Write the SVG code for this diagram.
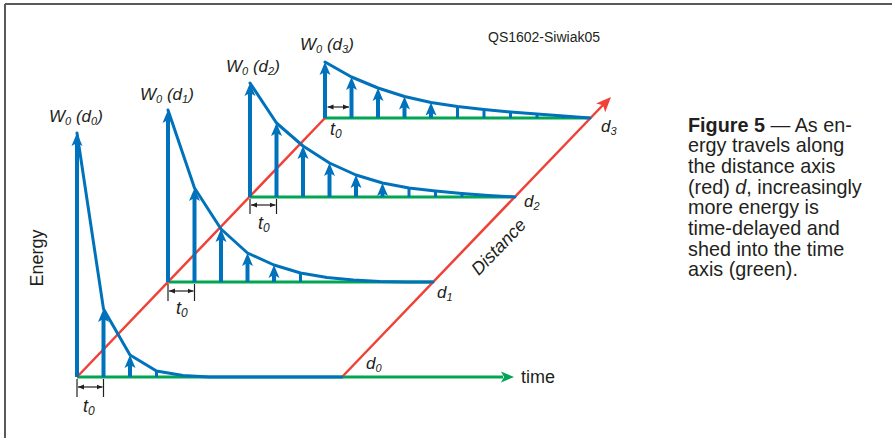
<svg xmlns="http://www.w3.org/2000/svg" xmlns:xlink="http://www.w3.org/1999/xlink" width="892" height="438" viewBox="0 0 892 438">
<style>
.frame{stroke:#58595b;stroke-width:2;fill:none}
.red{stroke:#ef4136;stroke-width:2.5;fill:none}
.green{stroke:#00a651;stroke-width:3;fill:none}
.curve{stroke:#0072bc;stroke-width:3;fill:none;stroke-linejoin:round;stroke-linecap:round}
.shaft{stroke:#0072bc;stroke-width:4;fill:none}
.tick{stroke:#0072bc;stroke-width:3;fill:none}
.head{fill:#0072bc}
.dim{stroke:#231f20;stroke-width:1.2;fill:none}
.dimarrow{stroke:#231f20;stroke-width:1.2;fill:none;marker-start:url(#dh);marker-end:url(#dh)}
.lbl{font-family:"Liberation Sans",Arial,sans-serif;font-style:italic;fill:#231f20}
.txt{font-family:"Liberation Sans",Arial,sans-serif;fill:#231f20}
</style>
<defs>
<path id="ah" d="M0,0 L5.5,13 L0,10 L-5.5,13 Z"/>
<marker id="dh" viewBox="0 0 6 6" refX="6" refY="3" markerWidth="6" markerHeight="6" markerUnits="userSpaceOnUse" orient="auto-start-reverse">
<path d="M0,0.5 L6,3 L0,5.5 Z" fill="#231f20"/>
</marker>
</defs>

<g id="frame">
<line class="frame" x1="5" y1="4" x2="892" y2="4"/>
<line class="frame" x1="5" y1="4" x2="5" y2="438"/>
</g>

<g id="axes">
<line class="green" x1="77" y1="377" x2="503" y2="377"/>
<use href="#ah" transform="translate(514,377) rotate(90)" fill="#00a651"/>
<line class="green" x1="168" y1="282" x2="433" y2="282"/>
<line class="green" x1="250" y1="197" x2="514" y2="197"/>
<line class="green" x1="325" y1="118" x2="590" y2="118"/>
<line class="red" x1="77" y1="377" x2="325" y2="118"/>
<line class="red" x1="342" y1="377" x2="603" y2="105"/>
<use href="#ah" transform="translate(611,97) rotate(43.85) scale(1.15)" fill="#ef4136"/>
</g>

<g id="plot-d0">
<path class="curve" d="M77,133 L103.5,309 L130,355 L156.5,371 L183,375.5 L209.5,377 L342,377"/>
<line class="shaft" x1="77" y1="377" x2="77" y2="142"/>
<use href="#ah" class="head" x="77" y="133"/>
<line class="shaft" x1="103.5" y1="377" x2="103.5" y2="318"/>
<use href="#ah" class="head" x="103.5" y="309"/>
<line class="shaft" x1="130" y1="377" x2="130" y2="364"/>
<use href="#ah" class="head" x="130" y="355"/>
<line class="tick" x1="156.5" y1="377" x2="156.5" y2="371"/>
</g>

<g id="plot-d1">
<path class="curve" d="M168,110 L194.5,188 L221,229 L247.5,253 L274,265 L300.5,273 L327,277.5 L353.5,280 L380,281.5 L406.5,282 L433,282"/>
<line class="shaft" x1="168" y1="282" x2="168" y2="119"/>
<use href="#ah" class="head" x="168" y="110"/>
<line class="shaft" x1="194.5" y1="282" x2="194.5" y2="197"/>
<use href="#ah" class="head" x="194.5" y="188"/>
<line class="shaft" x1="221" y1="282" x2="221" y2="238"/>
<use href="#ah" class="head" x="221" y="229"/>
<line class="shaft" x1="247.5" y1="282" x2="247.5" y2="262"/>
<use href="#ah" class="head" x="247.5" y="253"/>
<line class="shaft" x1="274" y1="282" x2="274" y2="274"/>
<use href="#ah" class="head" x="274" y="265"/>
<line class="tick" x1="300.5" y1="282" x2="300.5" y2="273"/>
</g>

<g id="plot-d2">
<path class="curve" d="M250,83 L276.5,123 L303,146 L329.5,163 L356,175 L382.5,183 L409,188 L435.5,191 L462,193.5 L488.5,195.5 L515,197"/>
<line class="shaft" x1="250" y1="197" x2="250" y2="92"/>
<use href="#ah" class="head" x="250" y="83"/>
<line class="shaft" x1="276.5" y1="197" x2="276.5" y2="132"/>
<use href="#ah" class="head" x="276.5" y="123"/>
<line class="shaft" x1="303" y1="197" x2="303" y2="155"/>
<use href="#ah" class="head" x="303" y="146"/>
<line class="shaft" x1="329.5" y1="197" x2="329.5" y2="172"/>
<use href="#ah" class="head" x="329.5" y="163"/>
<line class="shaft" x1="356" y1="197" x2="356" y2="184"/>
<use href="#ah" class="head" x="356" y="175"/>
<line class="shaft" x1="382.5" y1="197" x2="382.5" y2="192"/>
<use href="#ah" class="head" x="382.5" y="183"/>
<line class="tick" x1="409" y1="197" x2="409" y2="188"/>
<line class="tick" x1="435.5" y1="197" x2="435.5" y2="191"/>
<line class="tick" x1="462" y1="197" x2="462" y2="193.5"/>
</g>

<g id="plot-d3">
<path class="curve" d="M325,62 L351.5,77 L378,88 L404.5,96.5 L431,102.5 L457.5,106.5 L484,109.5 L510.5,112 L537,114 L563.5,116 L590,118"/>
<line class="shaft" x1="325" y1="118" x2="325" y2="71"/>
<use href="#ah" class="head" x="325" y="62"/>
<line class="shaft" x1="351.5" y1="118" x2="351.5" y2="86"/>
<use href="#ah" class="head" x="351.5" y="77"/>
<line class="shaft" x1="378" y1="118" x2="378" y2="97"/>
<use href="#ah" class="head" x="378" y="88"/>
<line class="shaft" x1="404.5" y1="118" x2="404.5" y2="105.5"/>
<use href="#ah" class="head" x="404.5" y="96.5"/>
<line class="shaft" x1="431" y1="118" x2="431" y2="111.5"/>
<use href="#ah" class="head" x="431" y="102.5"/>
<line class="tick" x1="457.5" y1="118" x2="457.5" y2="106.5"/>
<line class="tick" x1="484" y1="118" x2="484" y2="109.5"/>
<line class="tick" x1="510.5" y1="118" x2="510.5" y2="112"/>
<line class="tick" x1="537" y1="118" x2="537" y2="114"/>
<line class="tick" x1="563.5" y1="118" x2="563.5" y2="116"/>
</g>

<g id="t0-markers">
<line class="dim" x1="77" y1="379" x2="77" y2="397"/>
<line class="dim" x1="103.5" y1="379" x2="103.5" y2="397"/>
<line class="dimarrow" x1="78" y1="387" x2="102.5" y2="387"/>
<line class="dim" x1="168" y1="284" x2="168" y2="301"/>
<line class="dim" x1="194.5" y1="284" x2="194.5" y2="301"/>
<line class="dimarrow" x1="169" y1="291" x2="193.5" y2="291"/>
<line class="dim" x1="250" y1="199" x2="250" y2="214"/>
<line class="dim" x1="276.5" y1="199" x2="276.5" y2="214"/>
<line class="dimarrow" x1="251" y1="205" x2="275.5" y2="205"/>
<line class="dimarrow" x1="327.5" y1="107" x2="349" y2="107"/>
</g>

<g id="labels">
<text class="lbl" x="49" y="122" font-size="17">W<tspan font-size="11" dy="3">0</tspan><tspan dy="-3"> (d</tspan><tspan font-size="11" dy="3">0</tspan><tspan dy="-3">)</tspan></text>
<text class="lbl" x="140" y="100" font-size="17">W<tspan font-size="11" dy="3">0</tspan><tspan dy="-3"> (d</tspan><tspan font-size="11" dy="3">1</tspan><tspan dy="-3">)</tspan></text>
<text class="lbl" x="226" y="72" font-size="17">W<tspan font-size="11" dy="3">0</tspan><tspan dy="-3"> (d</tspan><tspan font-size="11" dy="3">2</tspan><tspan dy="-3">)</tspan></text>
<text class="lbl" x="300" y="50" font-size="17">W<tspan font-size="11" dy="3">0</tspan><tspan dy="-3"> (d</tspan><tspan font-size="11" dy="3">3</tspan><tspan dy="-3">)</tspan></text>

<text class="lbl" x="83" y="412" font-size="18">t<tspan font-size="12" dy="3">0</tspan></text>
<text class="lbl" x="176" y="314" font-size="18">t<tspan font-size="12" dy="3">0</tspan></text>
<text class="lbl" x="258" y="229" font-size="18">t<tspan font-size="12" dy="3">0</tspan></text>
<text class="lbl" x="330" y="135" font-size="18">t<tspan font-size="12" dy="3">0</tspan></text>

<text class="lbl" x="366" y="369" font-size="17">d<tspan font-size="11" dy="3">0</tspan></text>
<text class="lbl" x="437" y="298" font-size="17">d<tspan font-size="11" dy="3">1</tspan></text>
<text class="lbl" x="524" y="207" font-size="17">d<tspan font-size="11" dy="3">2</tspan></text>
<text class="lbl" x="601" y="132" font-size="17">d<tspan font-size="11" dy="3">3</tspan></text>

<text class="lbl" x="503" y="251" font-size="18" text-anchor="middle" transform="rotate(-46.2 503 251)">Distance</text>
<text class="txt" x="521" y="383" font-size="18">time</text>
<text class="txt" x="43" y="258" font-size="18" text-anchor="middle" transform="rotate(-90 43 258)">Energy</text>
<text class="txt" x="488" y="42" font-size="14" fill="#333">QS1602-Siwiak05</text>
</g>

<g id="caption" class="txt" font-size="19.8">
<text x="688" y="131.5"><tspan font-weight="bold">Figure 5</tspan> — As en-</text>
<text x="688" y="152.2">ergy travels along</text>
<text x="688" y="172.9">the distance axis</text>
<text x="688" y="193.6">(red) <tspan font-style="italic">d</tspan>, increasingly</text>
<text x="688" y="214.3">more energy is</text>
<text x="688" y="235">time-delayed and</text>
<text x="688" y="255.7">shed into the time</text>
<text x="688" y="276.4">axis (green).</text>
</g>
</svg>
